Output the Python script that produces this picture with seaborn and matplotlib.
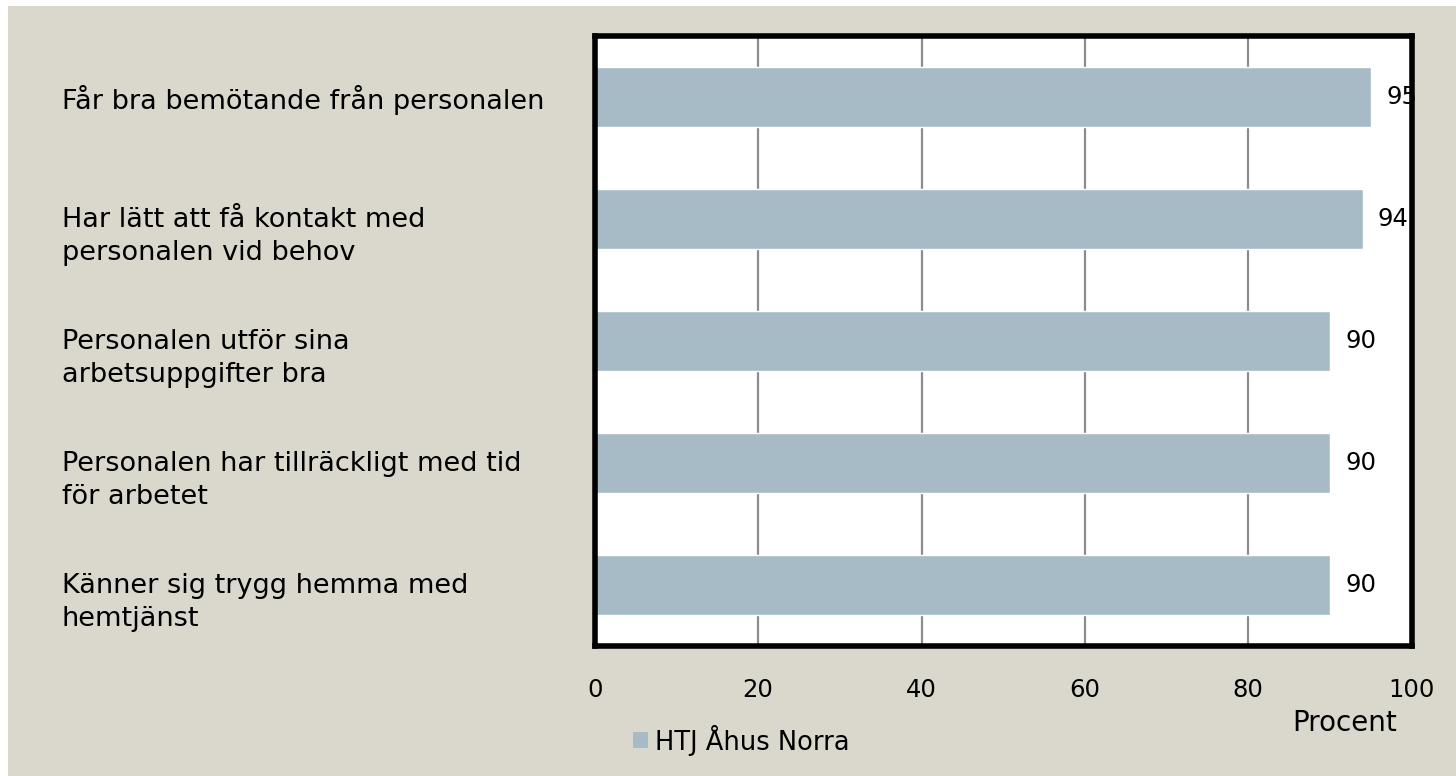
import matplotlib
matplotlib.use("Agg")
import matplotlib.pyplot as plt
import seaborn as sns
import pandas as pd
from matplotlib.patches import Rectangle
from matplotlib.transforms import offset_copy

categories = [
    "Får bra bemötande från personalen",
    "Har lätt att få kontakt med\npersonalen vid behov",
    "Personalen utför sina\narbetsuppgifter bra",
    "Personalen har tillräckligt med tid\nför arbetet",
    "Känner sig trygg hemma med\nhemtjänst",
]
values = [95, 94, 90, 90, 90]
series_name = "HTJ Åhus Norra"
x_ticks = [0, 20, 40, 60, 80, 100]

BG = "#DAD8CC"
BAR = "#A7BBC6"
FS_LAB = 19.5
FS_NUM = 17.5

sns.set_theme(style="white")
plt.rcParams["font.family"] = ["DejaVu Sans"]
plt.rcParams["text.color"] = "black"
plt.rcParams["xtick.color"] = "black"
plt.rcParams["ytick.color"] = "black"

df = pd.DataFrame({"kategori": categories, "varde": values, "serie": series_name})

W, H = 1456, 776
fig = plt.figure(figsize=(W / 100, H / 100), dpi=100, facecolor="white")
fig.patches.append(Rectangle((8 / W, 0), 1 - 8 / W, 1 - 6 / H,
                             transform=fig.transFigure, facecolor=BG,
                             edgecolor="none", zorder=-10))

left, right, top, bottom = 594.7, 1411.7, 36, 646
ax = fig.add_axes([left / W, 1 - bottom / H, (right - left) / W, (bottom - top) / H])
ax.set_facecolor("white")

sns.barplot(data=df, x="varde", y="kategori", hue="serie", palette=[BAR],
            saturation=1, orient="h", width=0.49, ax=ax, legend=False, zorder=2)

ax.set_xlim(0, 100)
ax.set_xticks(x_ticks)
ax.set_xticklabels([str(t) for t in x_ticks], fontsize=FS_NUM, color="black")
ax.tick_params(axis="x", length=0, pad=23)
ax.tick_params(axis="y", length=0, labelleft=False)

# category labels: left aligned, first line near the bar centre
x_lab = (62 - left) / (right - left)
lab_tr = offset_copy(ax.get_yaxis_transform(), fig=fig, x=0, y=12, units="dots")
for i, cat in enumerate(categories):
    ax.text(x_lab, i, cat, transform=lab_tr, ha="left", va="top",
            fontsize=FS_LAB, color="black", linespacing=1.36, clip_on=False)

ax.xaxis.grid(True, color="#8C8C8C", linewidth=1.6, zorder=0)
ax.yaxis.grid(False)
ax.set_axisbelow(True)
for s in ax.spines.values():
    s.set_visible(True)
    s.set_color("black")
    s.set_linewidth(4)
    s.set_zorder(3)

ax.set_xlabel("")
ax.set_ylabel("")

for cont in ax.containers:
    texts = ax.bar_label(cont, labels=[str(v) for v in values], padding=11,
                         fontsize=FS_NUM, color="black", clip_on=False)
    for t in texts:
        t.set_zorder(5)

fig.text(1345 / W, 1 - 723 / H, "Procent", ha="center", va="center", fontsize=20)

# legend
fig.patches.append(Rectangle((633 / W, 1 - 748 / H), 15 / W, 16 / H,
                             transform=fig.transFigure, facecolor=BAR,
                             edgecolor="none"))
fig.text(655 / W, 1 - 740 / H, series_name, ha="left", va="center", fontsize=18.5)

fig.savefig("out.png", dpi=100, facecolor=fig.get_facecolor())
